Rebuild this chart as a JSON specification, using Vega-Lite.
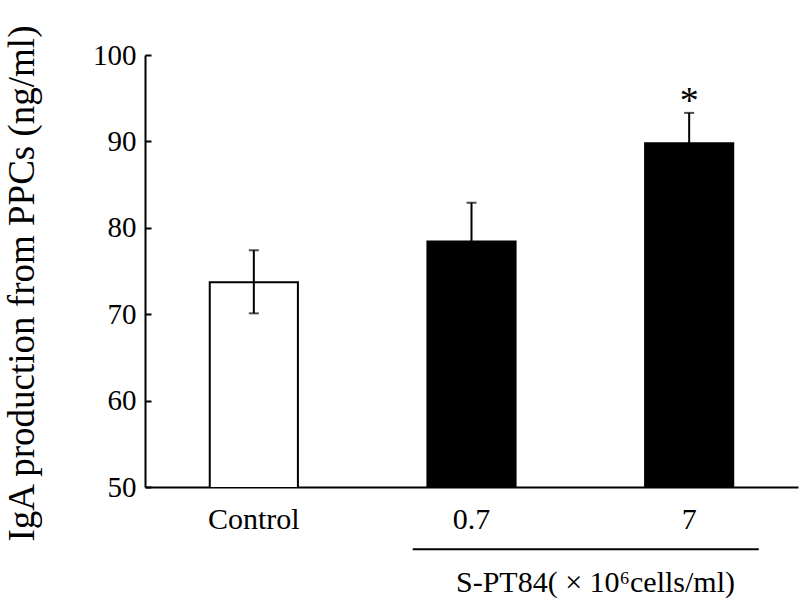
{
  "$schema": "https://vega.github.io/schema/vega-lite/v6.json",
  "width": 653,
  "height": 432,
  "autosize": {"type": "none"},
  "padding": {"left": 145, "top": 55, "right": 2, "bottom": 116},
  "background": "white",
  "config": {
    "view": {"stroke": null},
    "font": "Liberation Serif",
    "axis": {"grid": false, "domainColor": "black", "domainWidth": 2, "tickColor": "black", "labelColor": "black", "titleColor": "black", "labelFont": "Liberation Serif", "titleFont": "Liberation Serif", "titleFontWeight": "normal"}
  },
  "data": {"values": [
    {"group": "Control", "mean": 73.7, "lo": 70.1, "hi": 77.4, "sig": ""},
    {"group": "0.7", "mean": 78.4, "lo": 73.9, "hi": 82.9, "sig": ""},
    {"group": "7", "mean": 89.8, "lo": 86.3, "hi": 93.3, "sig": "*"}
  ]},
  "encoding": {
    "x": {"field": "group", "type": "nominal", "sort": null,
      "scale": {"paddingInner": 0, "paddingOuter": 0},
      "axis": {"title": "S-PT84( × 10⁶cells/ml)", "titleFontSize": 30, "titleX": 450, "titleY": 80, "titleAnchor": null, "titleAlign": "center",
        "labelAngle": 0, "labelFontSize": 30, "labelPadding": 17, "ticks": false}}
  },
  "layer": [
    {
      "mark": {"type": "bar", "width": {"band": 0.405}, "stroke": "black", "strokeWidth": 2, "clip": true},
      "encoding": {
        "y": {"field": "mean", "type": "quantitative",
          "scale": {"domain": [50, 100], "nice": false, "zero": false},
          "axis": {"title": "IgA production from PPCs (ng/ml)", "titleFontSize": 37, "titleX": -112, "titleY": 228, "titleAngle": -90, "titleAlign": "center", "titleBaseline": "alphabetic", "values": [50, 60, 70, 80, 90, 100], "labelFontSize": 29, "tickSize": -6, "tickWidth": 2, "labelPadding": 15}},
        "fill": {"condition": {"test": "datum.group === 'Control'", "value": "white"}, "value": "black"}
      }
    },
    {
      "mark": {"type": "rule", "color": "black", "strokeWidth": 2},
      "encoding": {"y": {"field": "lo", "type": "quantitative"}, "y2": {"field": "hi"}}
    },
    {
      "mark": {"type": "tick", "color": "black", "size": 10, "thickness": 2},
      "encoding": {"y": {"field": "hi", "type": "quantitative"}}
    },
    {
      "mark": {"type": "tick", "color": "black", "size": 10, "thickness": 2},
      "encoding": {"y": {"field": "lo", "type": "quantitative"}}
    },
    {
      "mark": {"type": "text", "fontSize": 38, "baseline": "alphabetic", "dy": 0, "color": "black", "font": "Liberation Serif"},
      "encoding": {"y": {"field": "hi", "type": "quantitative"}, "text": {"field": "sig"}}
    },
    {
      "data": {"values": [{"from": "0.7", "to": "7", "level": 42.8}]},
      "mark": {"type": "rule", "color": "black", "strokeWidth": 2, "clip": false},
      "encoding": {
        "x": {"field": "from", "type": "nominal", "bandPosition": 0.23},
        "x2": {"field": "to", "bandPosition": 0.82},
        "y": {"field": "level", "type": "quantitative"}
      }
    }
  ]
}
